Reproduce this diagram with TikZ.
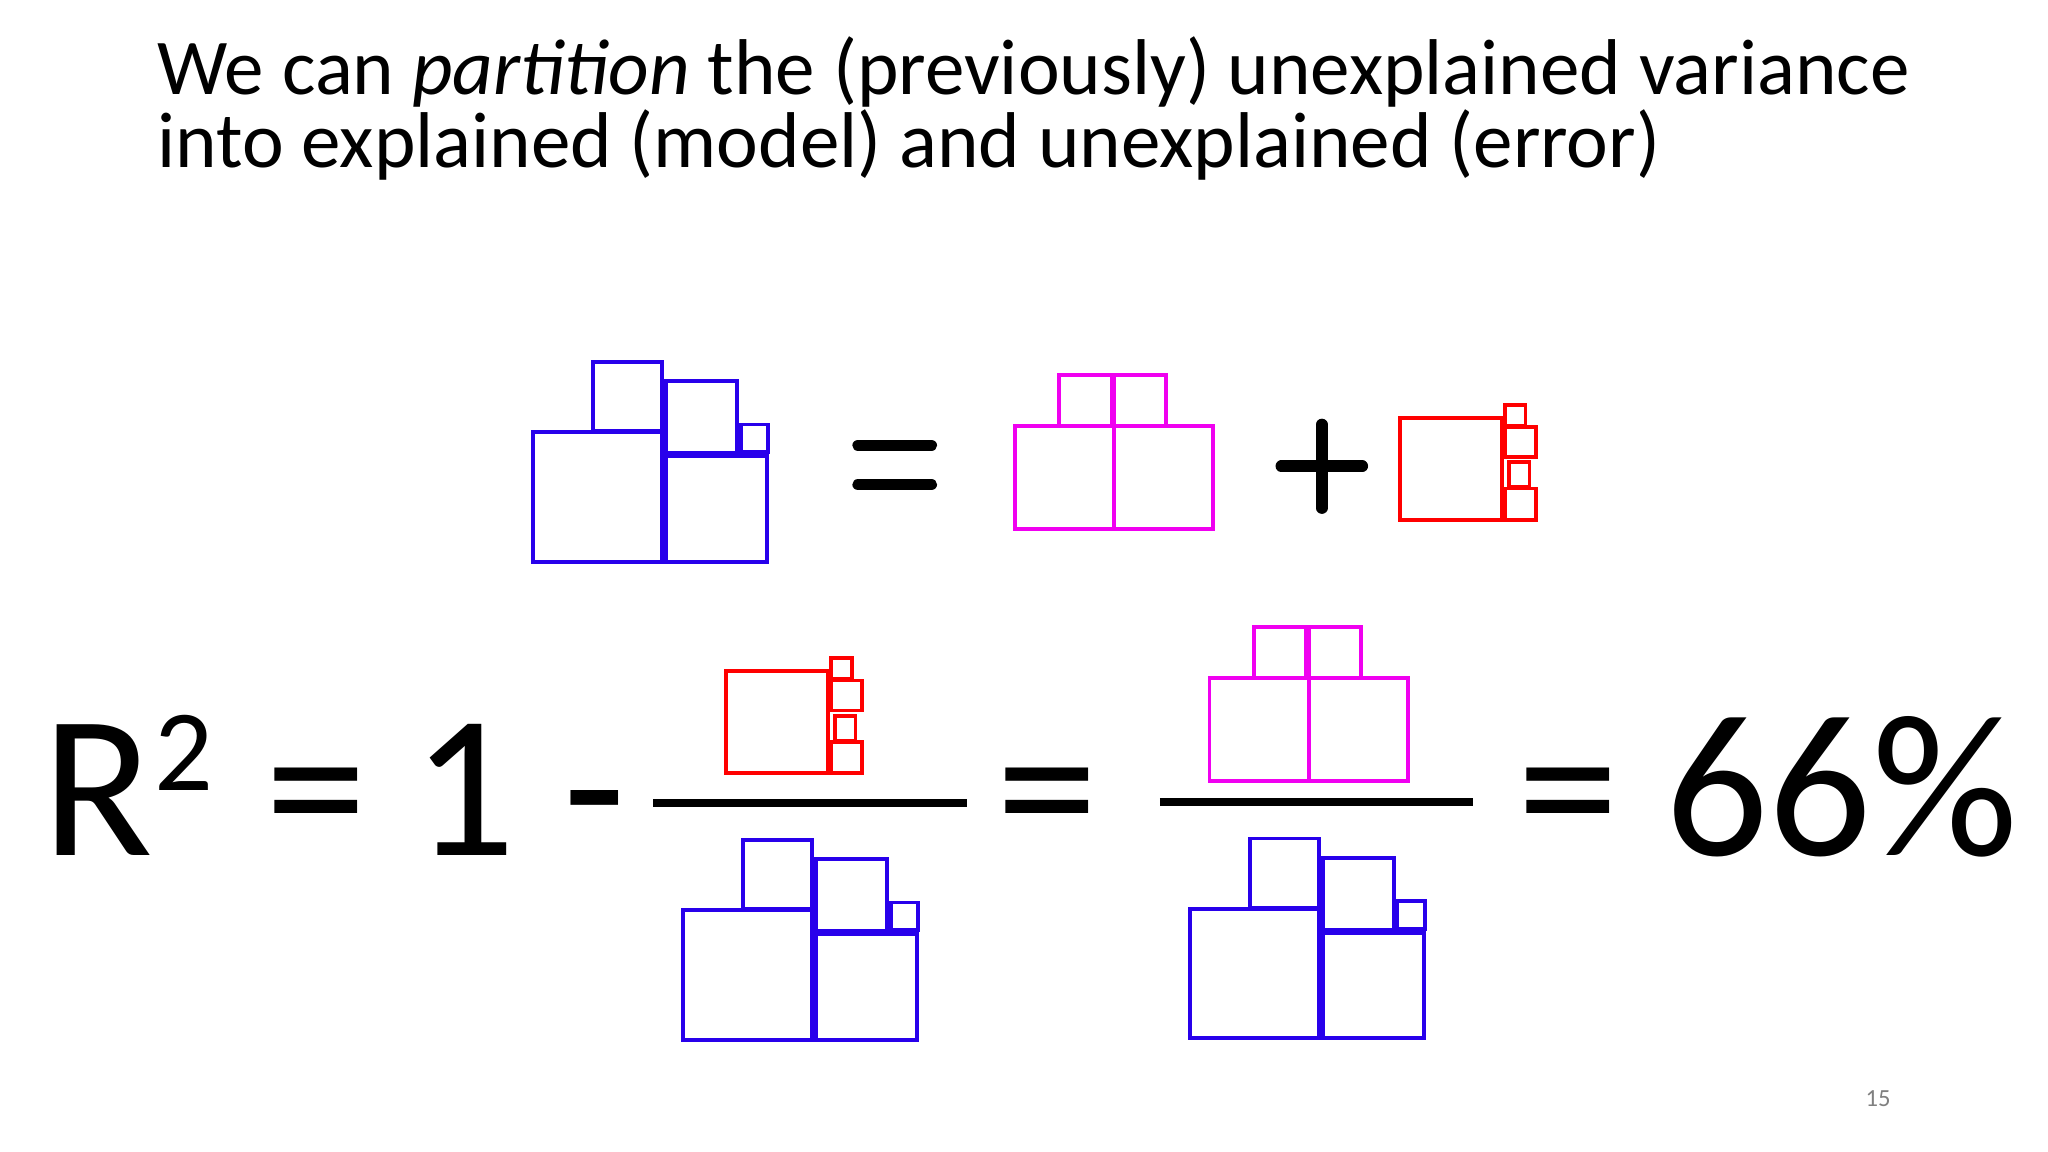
\documentclass[tikz,border=0pt]{standalone}
\usepackage{fontspec}
\setmainfont{Carlito}
\definecolor{bl}{RGB}{40,0,235}
\definecolor{mg}{RGB}{240,0,240}
\definecolor{rd}{RGB}{255,0,0}
\begin{document}
\begin{tikzpicture}[x=0.013061cm,y=-0.013061cm,
  bx/.style={line width=1.1pt},
  bar/.style={line width=3.3pt,line cap=round},
  big/.style={font=\fontsize{58}{60}\selectfont,inner sep=0,anchor=base},
  ttl/.style={font=\fontsize{22.5}{24}\selectfont,anchor=base west,inner sep=0}]
\useasboundingbox (0,0) rectangle (1568,882);
\node[ttl] (t1) at (120,72) {We can \textit{partition} the (previously) unexplained variance};
\node[ttl] (t2) at (120,128) {into explained (model) and unexplained (error)};
\node[font=\fontsize{7}{8}\selectfont,text=gray] (pg) at (1438,841) {15};
% blue groups
\foreach \dx/\dy in {0/0,115/366,503/365}{
 \begin{scope}[shift={(\dx,\dy)},draw=bl]
  \draw[bx,bl] (408,331) rectangle (507,430);
  \draw[bx,bl] (454,277) rectangle (507,330);
  \draw[bx,bl] (510,292) rectangle (564,347);
  \draw[bx,bl] (567,325) rectangle (588,346);
  \draw[bx,bl] (510,349) rectangle (587,430);
 \end{scope}}
% magenta groups
\foreach \dx/\dy in {0/0,149/193}{
 \begin{scope}[shift={(\dx,\dy)}]
  \draw[bx,mg] (777,326) rectangle (853,405);
  \draw[bx,mg] (853,326) rectangle (929,405);
  \draw[bx,mg] (811,287) rectangle (851,326);
  \draw[bx,mg] (853,287) rectangle (893,326);
 \end{scope}}
% red groups
\foreach \dx/\dy in {0/0,-516/194}{
 \begin{scope}[shift={(\dx,\dy)}]
  \draw[bx,rd] (1072,320) rectangle (1150,398);
  \draw[bx,rd] (1152,310) rectangle (1168,326);
  \draw[bx,rd] (1152,327) rectangle (1176,350);
  \draw[bx,rd] (1155,354) rectangle (1171,373);
  \draw[bx,rd] (1152,374) rectangle (1176,398);
 \end{scope}}
% top equals and plus
\coordinate (e1a) at (657,341); \coordinate (e1b) at (713,341);
\coordinate (e2a) at (657,371); \coordinate (e2b) at (713,371);
\draw[bar] (e1a) -- (e1b); \draw[bar] (e2a) -- (e2b);
\coordinate (p1) at (981,357); \coordinate (p2) at (1043,357);
\coordinate (p3) at (1012,325); \coordinate (p4) at (1012,389);
\draw[bar] (p1) -- (p2); \draw[bar] (p3) -- (p4);
% bottom formula
\node[big] (R) at (75,655) {R};
\node[font=\fontsize{33}{34}\selectfont,inner sep=0,anchor=base] (sq) at (141,605) {2};
\node[big] (eq1) at (242,655) {=};
\node[big] (one) at (355,655) {1};
\node[big] (minus) at (455,655) {-};
\coordinate (f1a) at (500,615); \coordinate (f1b) at (740,615);
\draw[line width=2.2pt] (f1a) -- (f1b);
\node[big] (eq2) at (802,655) {=};
\coordinate (f2a) at (888,614); \coordinate (f2b) at (1128,614);
\draw[line width=2.2pt] (f2a) -- (f2b);
\node[big] (eq3) at (1201,655) {=};
\node[big] (pc) at (1410,655) {66\%};
\end{tikzpicture}
\end{document}
